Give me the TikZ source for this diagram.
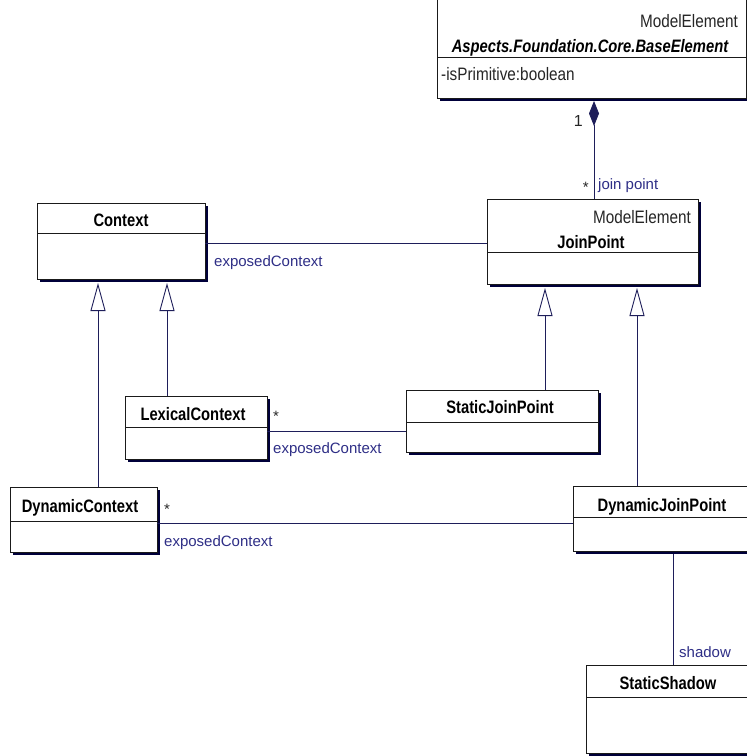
\documentclass[tikz,border=0pt]{standalone}
\usepackage{fontspec}
\setmainfont{Liberation Sans}
\newfontfamily\namefont{Liberation Sans}[FakeStretch=0.82]
\newfontfamily\bodyfont{Liberation Sans}[FakeStretch=0.85]
\usetikzlibrary{calc,shadows,arrows.meta}

\definecolor{edgecol}{HTML}{1E1E5A}
\definecolor{labelcol}{HTML}{2E2E86}
\definecolor{shadowcol}{HTML}{00003A}
\definecolor{boxline}{HTML}{1A1A1A}

\tikzset{
  classbox/.style={draw=boxline, line width=0.9pt, fill=white, rectangle,
    inner sep=0pt, outer sep=0pt, anchor=north west,
    drop shadow={shadow xshift=3pt, shadow yshift=-3pt, fill=shadowcol, opacity=1}},
  sepline/.style={draw=boxline, line width=0.9pt},
  cname/.style={inner sep=0pt, anchor=base, text=black,
    font=\namefont\bfseries\fontsize{18}{20}\selectfont},
  stereo/.style={inner sep=0pt, anchor=base east, text=black!85,
    font=\bodyfont\fontsize{18}{20}\selectfont},
  attr/.style={inner sep=0pt, anchor=base west, text=black!85,
    font=\bodyfont\fontsize{18}{20}\selectfont},
  rolelabel/.style={inner sep=0pt, anchor=base west, text=labelcol,
    font=\fontsize{15}{17}\selectfont},
  assoc/.style={draw=edgecol, line width=0.9pt},
  gen/.style={draw=edgecol, line width=0.9pt,
    -{Triangle[length=28pt,width=15pt,fill=white,line width=0.9pt]}},
  compos/.style={draw=edgecol, line width=0.9pt,
    -{Diamond[length=25pt,width=10pt,fill=edgecol]}}
}

\begin{document}
\begin{tikzpicture}[x=1pt, y=-1pt]
\useasboundingbox (0,0) rectangle (747,756);
\clip (0,0) rectangle (747,756);

% ---- classes ----
\node[classbox, minimum width=309pt, minimum height=118pt] (base) at (437,-20) {};
\draw[sepline] ($(base.north west)+(0,77)$) -- ($(base.north east)+(0,77)$);
\node[stereo] (baseStereo) at (738,27) {ModelElement};
\node[cname, font=\namefont\bfseries\itshape\fontsize{18}{20}\selectfont] (baseName) at (590,52) {Aspects.Foundation.Core.BaseElement};
\node[attr] (baseAttr) at (441,80) {-isPrimitive:boolean};

\node[classbox, minimum width=211pt, minimum height=85pt] (jp) at (487,199) {};
\draw[sepline] ($(jp.north west)+(0,53)$) -- ($(jp.north east)+(0,53)$);
\node[stereo] (jpStereo) at (691,223) {ModelElement};
\node[cname] (jpName) at (591,248) {JoinPoint};

\node[classbox, minimum width=168pt, minimum height=76pt] (context) at (37,203) {};
\draw[sepline] ($(context.north west)+(0,30)$) -- ($(context.north east)+(0,30)$);
\node[cname] (contextName) at (121,226) {Context};

\node[classbox, minimum width=142pt, minimum height=63pt] (lex) at (125,396) {};
\draw[sepline] ($(lex.north west)+(0,31)$) -- ($(lex.north east)+(0,31)$);
\node[cname] (lexName) at (193,420) {LexicalContext};

\node[classbox, minimum width=192pt, minimum height=62pt] (sjp) at (406,390) {};
\draw[sepline] ($(sjp.north west)+(0,32)$) -- ($(sjp.north east)+(0,32)$);
\node[cname] (sjpName) at (500,413) {StaticJoinPoint};

\node[classbox, minimum width=147pt, minimum height=65pt] (dc) at (10,487) {};
\draw[sepline] ($(dc.north west)+(0,34)$) -- ($(dc.north east)+(0,34)$);
\node[cname] (dcName) at (80,512) {DynamicContext};

\node[classbox, minimum width=182pt, minimum height=65pt] (djp) at (573,486) {};
\draw[sepline] ($(djp.north west)+(0,31)$) -- ($(djp.north east)+(0,31)$);
\node[cname] (djpName) at (662,511) {DynamicJoinPoint};

\node[classbox, minimum width=170pt, minimum height=88pt] (ss) at (586,665) {};
\draw[sepline] ($(ss.north west)+(0,32)$) -- ($(ss.north east)+(0,32)$);
\node[cname] (ssName) at (668,689) {StaticShadow};

% ---- composition ----
\draw[compos] ($(jp.north west)+(107,0)$) -- ($(base.south west)+(157,3)$);
\node[rolelabel, anchor=base east, text=black!85, font=\fontsize{16}{18}\selectfont] (oneMult) at (583,126) {1};
\node[rolelabel, anchor=base east, text=black!85] (manyJp) at (589,192) {*};
\node[rolelabel] (jpRole) at (598,189) {join point};

% ---- associations ----
\draw[assoc] ($(context.north east)+(0,40)$) -- ($(jp.north west)+(0,44)$);
\node[rolelabel] (ctxRole) at (214,266) {exposedContext};

\draw[assoc] ($(lex.north east)+(0,35)$) -- ($(sjp.north west)+(0,41)$);
\node[rolelabel, text=black!85] (lexMult) at (273,421) {*};
\node[rolelabel] (lexRole) at (273,453) {exposedContext};

\draw[assoc] ($(dc.north east)+(0,36)$) -- ($(djp.north west)+(0,37)$);
\node[rolelabel, text=black!85] (dcMult) at (164,514) {*};
\node[rolelabel] (dcRole) at (164,546) {exposedContext};

\draw[assoc] ($(djp.south west)+(100,3)$) -- ($(ss.north west)+(87,0)$);
\node[rolelabel] (ssRole) at (679,657) {shadow};

% ---- generalizations ----
\draw[gen] ($(lex.north west)+(42,0)$) -- ($(context.south west)+(130,4)$);
\draw[gen] ($(dc.north west)+(88,0)$) -- ($(context.south west)+(61,4)$);
\draw[gen] ($(sjp.north west)+(139,0)$) -- ($(jp.south west)+(58,4)$);
\draw[gen] ($(djp.north west)+(64,0)$) -- ($(jp.south west)+(150,4)$);
\end{tikzpicture}
\end{document}
